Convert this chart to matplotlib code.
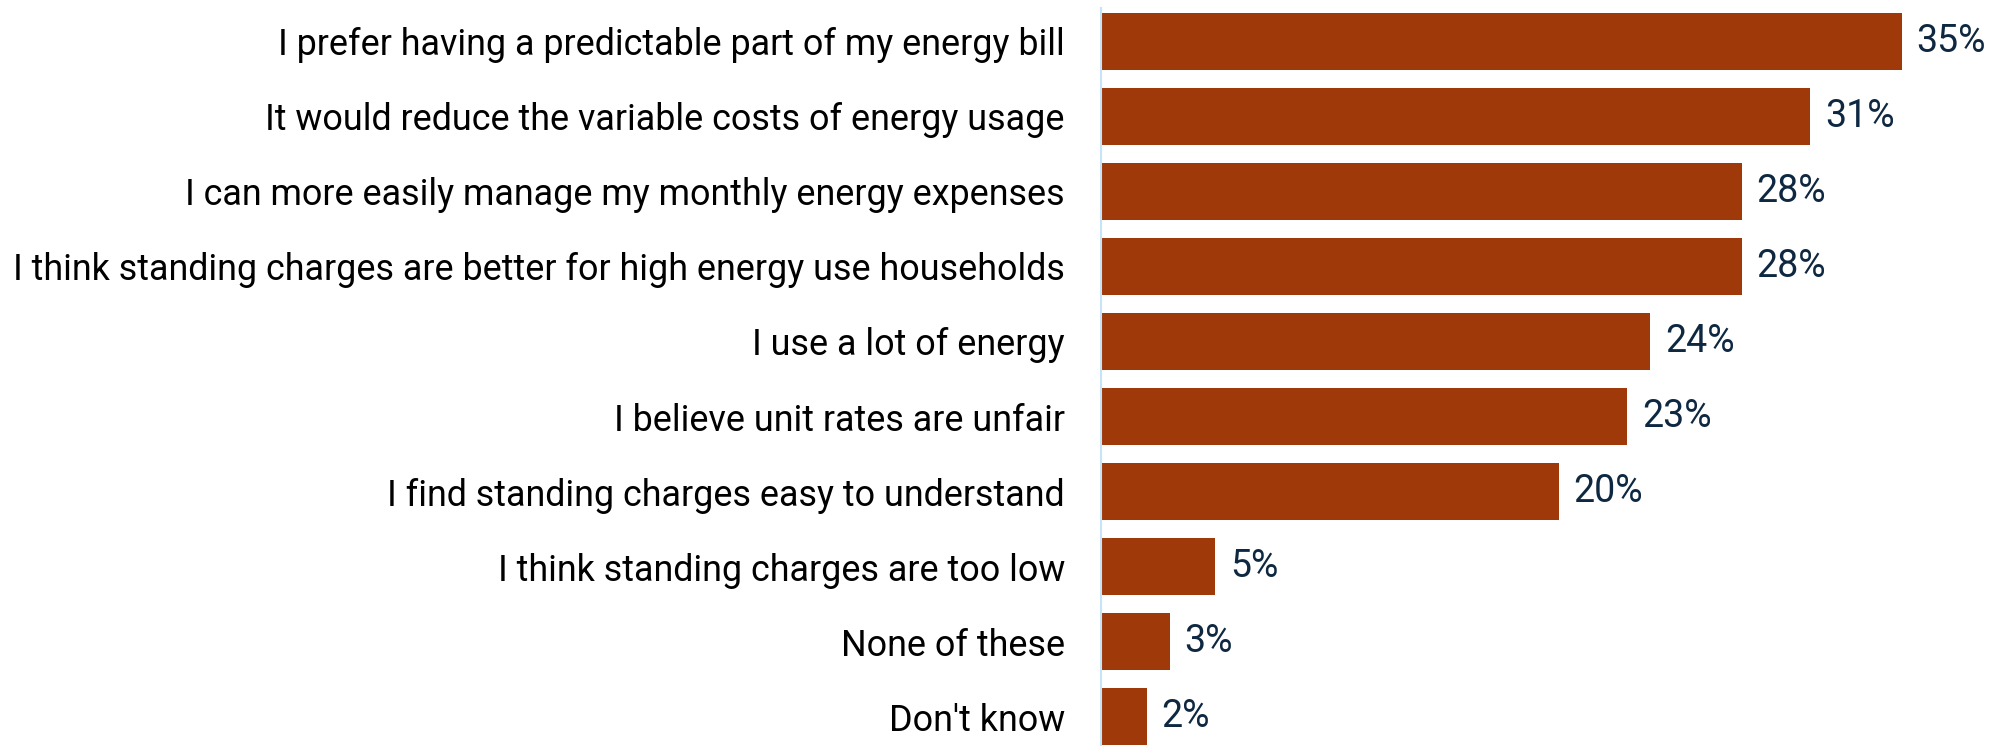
import matplotlib.pyplot as plt
from matplotlib import font_manager

# =============================================================================
# Data
# =============================================================================

categories = [
    "I prefer having a predictable part of my energy bill",
    "It would reduce the variable costs of energy usage",
    "I can more easily manage my monthly energy expenses",
    "I think standing charges are better for high energy use households",
    "I use a lot of energy",
    "I believe unit rates are unfair",
    "I find standing charges easy to understand",
    "I think standing charges are too low",
    "None of these",
    "Don't know",
]
values = [35, 31, 28, 28, 24, 23, 20, 5, 3, 2]
value_labels = [f"{v}%" for v in values]

bar_color = "#A0390A"
label_color = "#0E2841"

plt.rcParams['font.family'] = ['Roboto', 'DejaVu Sans']

# =============================================================================
# Plot
# =============================================================================

fig = plt.figure(figsize=(20.07, 7.46), dpi=100)
ax = fig.add_axes([1101 / 2007, 0, 1 - 1101 / 2007, 1])

ypos = list(range(len(categories)))
bars = ax.barh(ypos, values, height=0.77, color=bar_color)

ax.set_xlim(0, 39.6)
ax.set_ylim(9.393, -0.553)

for y, v, lab in zip(ypos, values, value_labels):
    ax.text(v + 0.65, y, lab, va='center', ha='left', fontsize=27, color=label_color)

ax.set_yticks(ypos)
ax.set_yticklabels(categories, fontsize=25.8, color='black')
ax.tick_params(axis='y', length=0, pad=26)
ax.set_xticks([])

for s in ['top', 'right', 'bottom']:
    ax.spines[s].set_visible(False)
ax.spines['left'].set_color('#C5E4F7')
ax.spines['left'].set_linewidth(1.5)
ax.spines['left'].set_bounds(9.5, -0.45)

fig.savefig("out.png", dpi=100)
